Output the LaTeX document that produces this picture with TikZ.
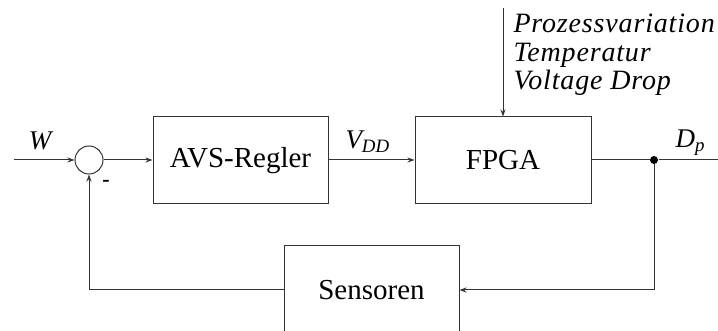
\documentclass[tikz,border=0pt]{standalone}
\usepackage{fontspec}
\setmainfont{Liberation Serif}
\usetikzlibrary{arrows.meta}
\begin{document}
\begin{tikzpicture}[x=1pt,y=-1pt,
  line width=1pt, draw=black!80,
  blk/.style={draw=black!80, rectangle, inner sep=0pt},
  arr/.style={-{Stealth[length=7pt,width=5pt]}},
  lbl/.style={font=\fontsize{27}{28.5}\selectfont\itshape, inner sep=0pt},
  dist/.style={font=\fontsize{28}{28.5}\selectfont\itshape\addfontfeatures{LetterSpace=3}, inner sep=0pt},
  boxtext/.style={font=\fontsize{29}{30}\selectfont}]
\useasboundingbox (0,0) rectangle (718,331);
\coordinate (in) at (14,160);
\node[draw=black!80, circle, minimum size=28pt, inner sep=0pt] (sum) at (89,160) {};
\node[blk, minimum width=175pt, minimum height=87pt, boxtext] (avs) at (240.5,160.5) {AVS-Regler};
\node[blk, minimum width=176pt, minimum height=87pt, boxtext] (fpga) at (503,160.5) {FPGA};
\node[blk, minimum width=175pt, minimum height=88pt, boxtext] (sens) at (371.5,290) {Sensoren};
\node[circle, fill=black, inner sep=0pt, minimum size=8pt] (dot) at (654,160) {};
\coordinate (out) at (718,160);
\coordinate (top) at (503,8);
\coordinate (fb) at (654,290);

\draw[arr] (in) -- (sum.west);
\draw[arr] (sum.east) -- (sum.east -| avs.west);
\draw[arr] (avs.east |- 0,160) -- (fpga.west |- 0,160);
\draw[arr] (top) -- (fpga.north);
\draw (fpga.east |- 0,160) -- (dot) -- (out);
\draw[arr] (dot) -- (fb) -- (sens.east |- fb);
\draw[arr] (sens.west) -| (sum.south);

\node[lbl, anchor=base] (w) at (40,150) {W};
\node[lbl, anchor=base west] (vdd) at (345,149) {V\textsubscript{DD}};
\node[lbl, anchor=base west] (dp) at (675,148) {D\textsubscript{p}};
\node[font=\fontsize{22}{22}\selectfont\bfseries, inner sep=0pt] (minus) at (106,183) {-};
\node[dist, anchor=base west, align=left] (dist) at (513,90) {Prozessvariation\\Temperatur\\Voltage Drop};
\end{tikzpicture}
\end{document}
